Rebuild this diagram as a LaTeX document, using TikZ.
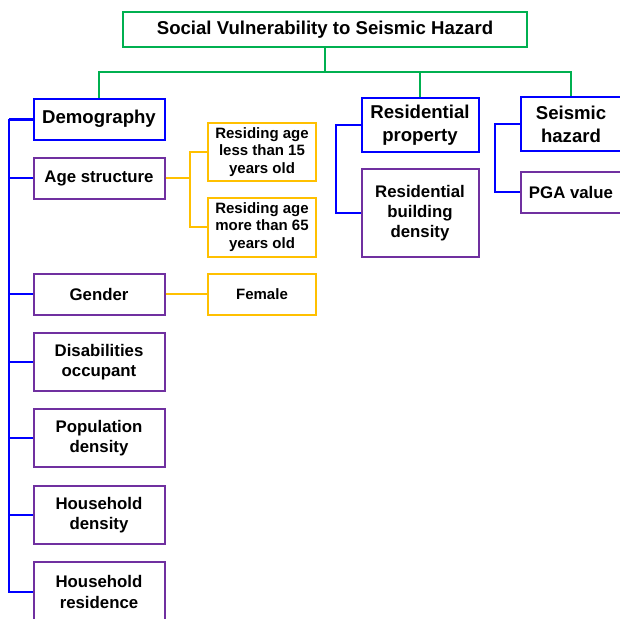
\documentclass[tikz,border=0pt]{standalone}
\usepackage{fontspec}
\setmainfont{Liberation Sans}
\definecolor{ogreen}{HTML}{00B050}
\definecolor{oblue}{HTML}{0000FF}
\definecolor{opurple}{HTML}{7030A0}
\definecolor{oyellow}{HTML}{FFC000}
\tikzset{
  basebox/.style={draw, fill=white, inner sep=0pt, align=center, font=\bfseries},
  titlebox/.style={basebox, draw=ogreen, line width=2pt, font=\bfseries\fontsize{18.6}{22}\selectfont},
  catbox/.style={basebox, draw=oblue, line width=2pt, font=\bfseries\fontsize{18.6}{23}\selectfont},
  subbox/.style={basebox, draw=opurple, line width=2pt, font=\bfseries\fontsize{16.8}{20.3}\selectfont},
  leafbox/.style={basebox, draw=oyellow, line width=2pt, font=\bfseries\fontsize{15}{17.8}\selectfont},
  gline/.style={draw=ogreen, line width=2pt},
  bline/.style={draw=oblue, line width=2pt},
  yline/.style={draw=oyellow, line width=2pt},
}
\begin{document}
\begin{tikzpicture}[x=1pt,y=-1pt]
\useasboundingbox (0,0) rectangle (620,618);
\clip (0,0) rectangle (620,618);
% title
\node[titlebox, minimum width=404pt, minimum height=35pt] (title) at (325,29.5) {Social Vulnerability to Seismic Hazard};
% categories
\node[catbox, minimum width=131pt, minimum height=41pt] (demo) at (99,119) {Demography};
\node[catbox, minimum width=117pt, minimum height=54pt] (res) at (420,125) {Residential\\property};
\node[catbox, minimum width=101pt, minimum height=54pt] (seis) at (571,124) {Seismic\\hazard};
% demography children
\node[subbox, minimum width=131pt, minimum height=41pt] (age) at (99,178) {Age structure};
\node[subbox, minimum width=131pt, minimum height=41pt] (gender) at (99,294) {Gender};
\node[subbox, minimum width=131pt, minimum height=58pt] (dis) at (99,362) {Disabilities\\occupant};
\node[subbox, minimum width=131pt, minimum height=58pt] (pop) at (99,438) {Population\\density};
\node[subbox, minimum width=131pt, minimum height=58pt] (hden) at (99,515) {Household\\density};
\node[subbox, minimum width=131pt, minimum height=60pt] (hres) at (99,592) {Household\\residence};
% other children
\node[subbox, minimum width=117pt, minimum height=88pt] (rbd) at (420,213) {Residential\\building\\density};
\node[subbox, minimum width=101pt, minimum height=41pt] (pga) at (571,192) {PGA value};
% leaves
\node[leafbox, minimum width=108pt, minimum height=58pt] (young) at (262,152) {Residing age\\less than 15\\years old};
\node[leafbox, minimum width=108pt, minimum height=59pt] (old) at (262,227) {Residing age\\more than 65\\years old};
\node[leafbox, minimum width=108pt, minimum height=41pt] (female) at (262,294) {Female};
% green connectors
\coordinate (hub) at (325,72);
\draw[gline] (title.south) -- (hub);
\draw[gline] (demo.north) |- (hub) -| (seis.north);
\draw[gline] (res.north) |- (hub);
% demography connectors
\coordinate (dtop) at (9,119);
\draw[draw=oblue, line width=3pt] (demo.west) -- (dtop);
\draw[bline] (dtop) |- (age.west);
\draw[bline] (dtop) |- (gender.west);
\draw[bline] (dtop) |- (dis.west);
\draw[bline] (dtop) |- (pop.west);
\draw[bline] (dtop) |- (hden.west);
\draw[bline] (dtop) |- (hres.west);
% residential and seismic connectors
\coordinate (rj) at (336,125);
\draw[bline] (res.west) -- (rj) |- (rbd.west);
\coordinate (sj) at (495,124);
\draw[bline] (seis.west) -- (sj) |- (pga.west);
% yellow connectors
\coordinate (yj) at (190,178);
\draw[yline] (age.east) -- (yj);
\draw[yline] (yj) |- (young.west);
\draw[yline] (yj) |- (old.west);
\draw[yline] (gender.east) -- (female.west);
\end{tikzpicture}
\end{document}
